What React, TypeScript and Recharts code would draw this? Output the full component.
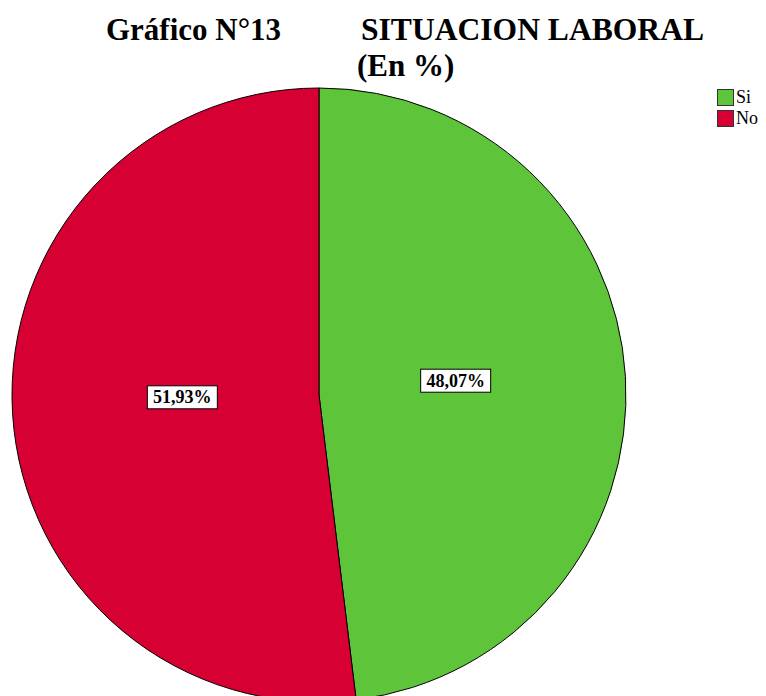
import React from "react";
import { PieChart, Pie, Cell, Legend } from "recharts";

const categories = ["Si", "No"];
const values = [48.07, 51.93];
const colors = ["#5ec43a", "#d70032"];
const titleLine1a = "Gráfico N°13";
const titleLine1b = "SITUACION LABORAL";
const titleLine2 = "(En %)";

const data = categories.map((name, i) => ({ name, value: values[i] }));

const RAD = Math.PI / 180;
const SERIF = "Liberation Serif, Times New Roman, serif";

const renderLabel = (props: any) => {
  const { cx, cy, midAngle, outerRadius, value } = props;
  const r = outerRadius * 0.446;
  const x = cx + r * Math.cos(-midAngle * RAD);
  const y = cy + r * Math.sin(-midAngle * RAD) - 6;
  const text = value.toFixed(2).replace(".", ",") + "%";
  const w = 70;
  const h = 23;
  return (
    <g>
      <rect x={x - w / 2} y={y - h / 2} width={w} height={h} fill="#ffffff" stroke="#000000" strokeWidth={1} />
      <text
        x={x}
        y={y + 6}
        textAnchor="middle"
        fontFamily={SERIF}
        fontWeight="bold"
        fontSize={18}
        fill="#000000"
      >
        {text}
      </text>
    </g>
  );
};

const renderLegend = () => (
  <div style={{ fontFamily: SERIF, fontSize: 18, color: "#000" }}>
    {categories.map((c, i) => (
      <div key={c} style={{ display: "flex", alignItems: "center", height: 21 }}>
        <span
          style={{
            display: "inline-block",
            width: 15,
            height: 15,
            background: colors[i],
            border: "1px solid #333",
            marginRight: 2,
          }}
        />
        <span>{c}</span>
      </div>
    ))}
  </div>
);

export default function App() {
  return (
    <div style={{ position: "fixed", left: 0, top: 0, width: 766, height: 696, background: "#fff", overflow: "hidden" }}>
      <PieChart width={766} height={696} margin={{ top: 0, right: 0, bottom: 0, left: 0 }}>
        <Pie
          data={data}
          dataKey="value"
          nameKey="name"
          cx={319}
          cy={395}
          outerRadius={307}
          startAngle={90}
          endAngle={-270}
          stroke="#000000"
          strokeWidth={1}
          label={renderLabel}
          labelLine={false}
          isAnimationActive={false}
        >
          {data.map((d, i) => (
            <Cell key={d.name} fill={colors[i]} />
          ))}
        </Pie>
        <Legend
          layout="vertical"
          verticalAlign="top"
          align="right"
          content={renderLegend}
          wrapperStyle={{ position: "absolute", left: 717, top: 87, width: 50 }}
        />
      </PieChart>
      <svg width={766} height={90} style={{ position: "absolute", left: 0, top: 0 }}>
        <g fontFamily={SERIF} fontWeight="bold" fontSize={31} fill="#000">
          <text x={106} y={40}>{titleLine1a}</text>
          <text x={361} y={40} textLength={343} lengthAdjust="spacingAndGlyphs">{titleLine1b}</text>
          <text x={357} y={76}>{titleLine2}</text>
        </g>
      </svg>
    </div>
  );
}
